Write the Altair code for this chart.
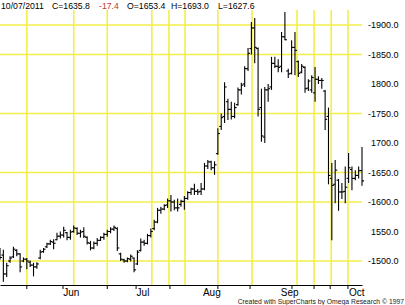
import altair as alt
import pandas as pd

# ---- data (Dec 2011 gold, daily OHLC, one bar per trading day) ----
opens = [1518,1510,1478,1500,1507,1518,1512,1500,1503,1498,1493,1490,1505,1516,1524,1529,1532,1536,
         1542,1544,1548,1540,1550,1555,1547,1550,1540,1530,1522,1530,1535,1540,1545,1550,1554,1555,1512,1502,1500,1503,
         1505,1495,1518,1532,1530,1543,1555,1566,1586,1588,1595,1602,1600,1590,1596,1601,1606,1616,1622,1618,
         1618,1622,1661,1668,1658,1682,1728,1745,1770,1757,1745,1765,1790,1800,1826,1860,1895,1860,1760,1710,1790,1795,1835,
         1830,1830,1880,1822,1818,1862,1838,1820,1828,1793,1790,1785,1808,1806,1788,1745,1640,1630,1637,1617,1618,
         1640,1655,1640,1645,1653.4]
highs = [1522,1519,1497,1508,1524,1520,1513,1506,1505,1501,1497,1498,1519,1522,1531,1536,1537,1548,
         1550,1558,1549,1553,1560,1557,1553,1557,1542,1534,1533,1539,1542,1548,1553,1557,1560,1557,1514,1504,1506,1511,
         1506,1518,1538,1536,1546,1555,1570,1590,1592,1596,1606,1612,1604,1606,1604,1610,1618,1624,1631,1622,
         1632,1666,1671,1670,1669,1725,1750,1803,1775,1770,1768,1794,1802,1830,1861,1905,1912,1862,1792,1795,1800,1846,1846,
         1842,1888,1922,1826,1874,1888,1840,1834,1830,1808,1815,1829,1813,1810,1790,1760,1666,1671,1639,1632,1660,
         1683,1660,1654,1660,1693.0]
lows = [1502,1465,1473,1497,1505,1508,1481,1498,1486,1490,1474,1487,1503,1514,1522,1527,1520,1535,
        1538,1540,1535,1536,1548,1544,1540,1539,1528,1518,1520,1526,1534,1536,1541,1547,1551,1517,1500,1497,1498,1499,
        1481,1493,1516,1526,1528,1540,1552,1564,1580,1586,1590,1584,1586,1584,1592,1587,1604,1612,1612,1612,
        1612,1620,1656,1654,1646,1680,1722,1734,1739,1740,1742,1763,1782,1795,1822,1850,1835,1745,1702,1700,1770,1790,1827,
        1820,1820,1874,1810,1816,1815,1812,1818,1785,1788,1785,1770,1800,1792,1722,1630,1535,1598,1585,1605,1598,
        1632,1620,1637,1640,1627.6]
closes = [1506,1478,1492,1505,1520,1512,1490,1503,1500,1493,1490,1495,1515,1520,1529,1533,1530,1542,
          1544,1552,1540,1549,1556,1547,1549,1542,1531,1522,1530,1535,1540,1545,1550,1554,1557,1522,1503,1500,1504,1508,
          1485,1515,1532,1530,1543,1550,1566,1586,1588,1594,1602,1600,1590,1590,1601,1606,1616,1622,1618,1617,
          1622,1661,1668,1658,1663,1716,1743,1795,1757,1745,1760,1790,1798,1826,1852,1895,1862,1757,1712,1790,1792,1835,1830,
          1828,1880,1875,1817,1862,1857,1818,1830,1792,1805,1811,1808,1806,1806,1740,1645,1628,1654,1617,1617,1625,
          1658,1640,1645,1653,1635.8]

month_names = ["Jun", "Jul", "Aug", "Sep", "Oct"]
month_label_idx = [18.7, 40.6, 60.4, 83.6, 104]
x_tick_idx = [8, 18.8, 32, 40.6, 50.7, 65, 74.6, 87.1, 93.7, 98.5, 103.8]
v_grid_idx = [8, 22, 32, 45.3, 50.4, 55.2, 65, 75.2, 88.6, 93.7, 98.8, 103.8]
h_grid_price = [1900, 1850, 1750, 1650, 1600, 1500]
y_label_values = [1900, 1850, 1800, 1750, 1700, 1650, 1600, 1550, 1500]

header_texts = ["10/07/2011", "C=1635.8", "-17.4", "O=1653.4", "H=1693.0", "L=1627.6"]
header_colors = ["#000000", "#000000", "#c0392b", "#000000", "#000000", "#000000"]
footer_text = "Created with SuperCharts by Omega Research \u00a9 1997"

df = pd.DataFrame({"i": list(range(len(opens))), "open": opens, "high": highs,
                   "low": lows, "close": closes})

W, H = 362, 275
FONT = "Liberation Sans"
xscale = alt.Scale(domain=[0, 108], nice=False, zero=False)
yscale = alt.Scale(domain=[1459.3, 1925.4], nice=False, zero=False)

grid_col = "#f3ee4a"

mlab_expr = "[" + ",".join("'%s'" % m for m in month_names) + "][indexof([" + \
    ",".join(str(v) for v in month_label_idx) + "], datum.value)]"
dash_vals = ",".join(str(v) for v in h_grid_price)
ylab_expr = "(indexof([" + dash_vals + "], datum.value) >= 0 ? '-' : '') + format(datum.value, '.1f')"

x_axis = alt.Axis(values=month_label_idx, labelExpr=mlab_expr, grid=False, ticks=False,
                  domain=True, domainColor="black", domainWidth=1.2, title=None,
                  labelAlign="left", labelPadding=2, labelFont=FONT,
                  labelFontSize=10, labelColor="black", labelBaseline="top")
y_axis = alt.Axis(orient="right", values=y_label_values, labelExpr=ylab_expr,
                  grid=False, ticks=False, domain=False, title=None,
                  labelAlign="right", labelPadding=36, labelFont=FONT,
                  labelFontSize=9, labelColor="black")

hgrid = alt.Chart(pd.DataFrame({"p": h_grid_price})).mark_rule(
    color=grid_col, strokeWidth=1.6).encode(y=alt.Y("p:Q", scale=yscale, axis=y_axis))
vgrid = alt.Chart(pd.DataFrame({"i": v_grid_idx})).mark_rule(
    color=grid_col, strokeWidth=1.6).encode(x=alt.X("i:Q", scale=xscale, axis=x_axis))

base = alt.Chart(df)
hl = base.mark_rule(color="black", strokeWidth=1.1).encode(
    x=alt.X("i:Q", scale=xscale, axis=x_axis),
    y=alt.Y("low:Q", scale=yscale, axis=y_axis),
    y2="high:Q")
op = base.mark_rule(color="black", strokeWidth=1.1, x2Offset=-2).encode(
    x=alt.X("i:Q", scale=xscale, axis=x_axis), x2="i:Q",
    y=alt.Y("open:Q", scale=yscale, axis=y_axis))
cl = base.mark_rule(color="black", strokeWidth=1.1, x2Offset=2).encode(
    x=alt.X("i:Q", scale=xscale, axis=x_axis), x2="i:Q",
    y=alt.Y("close:Q", scale=yscale, axis=y_axis))

xticks = alt.Chart(pd.DataFrame({"i": x_tick_idx})).mark_rule(
    color="black", strokeWidth=1).encode(
    x=alt.X("i:Q", scale=xscale, axis=x_axis), y=alt.value(H), y2=alt.value(H + 4))

header_x = [1, 52, 99, 127, 171, 218]
headers = []
for t, c, hx in zip(header_texts, header_colors, header_x):
    headers.append(alt.Chart(pd.DataFrame({"t": [t]})).mark_text(
        align="left", baseline="alphabetic", font=FONT, fontSize=8.7, color=c).encode(
        text="t:N", x=alt.value(hx), y=alt.value(-1.5)))

footer = alt.Chart(pd.DataFrame({"t": [footer_text]})).mark_text(
    align="right", baseline="alphabetic", font=FONT, fontSize=6.8, color="#222222").encode(
    text="t:N", x=alt.value(404), y=alt.value(H + 18.5))

chart = alt.layer(hgrid, vgrid, hl, op, cl, xticks, footer, *headers).properties(
    width=W, height=H, padding={"left": 0, "top": 10, "right": 43, "bottom": 20},
    autosize=alt.AutoSizeParams(type="none"),
    background="white"
).configure_view(stroke=None).configure_axis(labelFont=FONT)

chart.save("out.html", embed_options={"renderer": "svg", "actions": False})
